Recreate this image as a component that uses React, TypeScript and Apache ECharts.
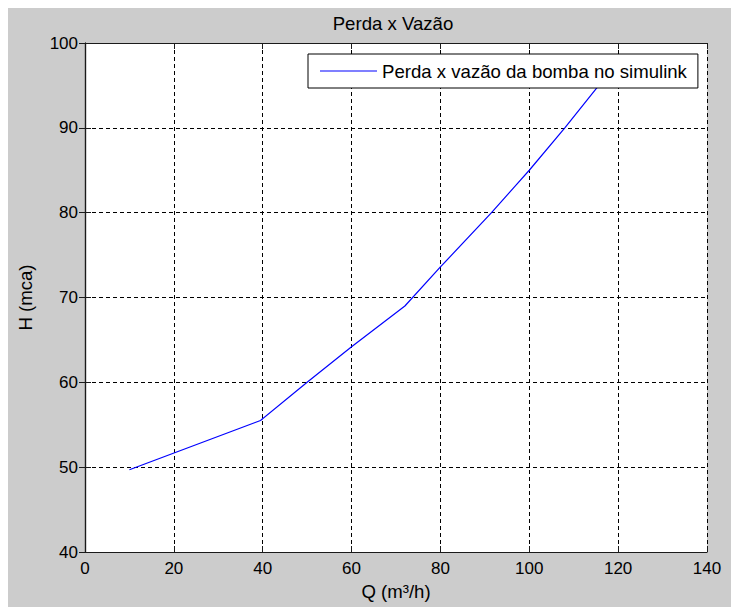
import React, { useEffect, useRef } from "react";
import * as echarts from "echarts";

const chartTitle = "Perda x Vazão";
const seriesName = "Perda x vazão da bomba no simulink";
const xName = "Q (m³/h)";
const yName = "H (mca)";
const qValues = [10, 39.5, 50, 60, 72, 80, 91.5, 100, 108, 115.2, 119];
const hValues = [49.7, 55.5, 60, 64.2, 69, 73.6, 80, 85, 90, 94.7, 97.3];
const xMin = 0, xMax = 140, xStep = 20;
const yMin = 40, yMax = 100, yStep = 10;

const FONT = "'Liberation Sans', Arial, sans-serif";
const TXT = 18.6;
const W = 800;
const H = 700;

export default function App() {
  const ref = useRef<HTMLDivElement>(null);
  useEffect(() => {
    if (!ref.current) return;
    const chart = echarts.init(ref.current, null, { renderer: "svg" });
    const axisLine = { show: true, lineStyle: { color: "#1a1a1a", width: 1.2 } };
    const tick = { show: true, inside: true, length: 6, lineStyle: { color: "#1a1a1a", width: 1 } };
    const split = { show: true, lineStyle: { color: "#000", type: [4, 3], width: 1 } };
    chart.setOption({
      animation: false,
      backgroundColor: "#cccccc",
      textStyle: { fontFamily: FONT },
      graphic: [
        {
          type: "text",
          x: 385,
          y: 15,
          style: {
            text: chartTitle,
            fontSize: TXT,
            fontFamily: FONT,
            fill: "#000",
            textAlign: "center",
            textVerticalAlign: "middle",
          },
        },
      ],
      grid: {
        left: 75,
        top: 35,
        right: W - 699,
        bottom: H - 544,
        show: true,
        backgroundColor: "#fff",
        borderWidth: 0,
      },
      legend: {
        show: true,
        left: 300,
        top: 46,
        padding: [7, 11, 7, 12],
        backgroundColor: "#fff",
        borderColor: "#000",
        borderWidth: 1,
        borderRadius: 0,
        icon: "rect",
        itemWidth: 57,
        itemHeight: 1.2,
        textStyle: { fontSize: TXT, fontFamily: FONT, color: "#000", lineHeight: 20 },
        data: [{ name: seriesName, itemStyle: { color: "#0000ff" } }],
      },
      xAxis: [
        {
          type: "value",
          min: xMin,
          max: xMax,
          interval: xStep,
          name: xName,
          nameLocation: "middle",
          nameGap: 27,
          nameTextStyle: { fontSize: TXT, fontFamily: FONT, color: "#000" },
          axisLine,
          axisTick: tick,
          axisLabel: { fontSize: 17, fontFamily: FONT, color: "#000", margin: 8 },
          splitLine: split,
        },
        {
          type: "value",
          position: "top",
          min: xMin,
          max: xMax,
          interval: xStep,
          axisLine,
          axisTick: tick,
          axisLabel: { show: false },
          splitLine: { show: false },
        },
      ],
      yAxis: [
        {
          type: "value",
          min: yMin,
          max: yMax,
          interval: yStep,
          name: yName,
          nameLocation: "middle",
          nameRotate: 90,
          nameGap: 50,
          nameTextStyle: { fontSize: TXT, fontFamily: FONT, color: "#000" },
          axisLine,
          axisTick: tick,
          axisLabel: { fontSize: 17, fontFamily: FONT, color: "#000", margin: 7 },
          splitLine: split,
        },
        {
          type: "value",
          position: "right",
          min: yMin,
          max: yMax,
          interval: yStep,
          axisLine,
          axisTick: tick,
          axisLabel: { show: false },
          splitLine: { show: false },
        },
      ],
      series: [
        {
          name: seriesName,
          type: "line",
          data: qValues.map((q, i) => [q, hValues[i]]),
          symbol: "none",
          lineStyle: { color: "#0000ff", width: 1.2 },
          itemStyle: { color: "#0000ff" },
          z: 2,
        },
      ],
    });
    return () => chart.dispose();
  }, []);
  return (
    <div
      ref={ref}
      style={{ position: "fixed", left: 8, top: 8, width: W, height: H }}
    />
  );
}
